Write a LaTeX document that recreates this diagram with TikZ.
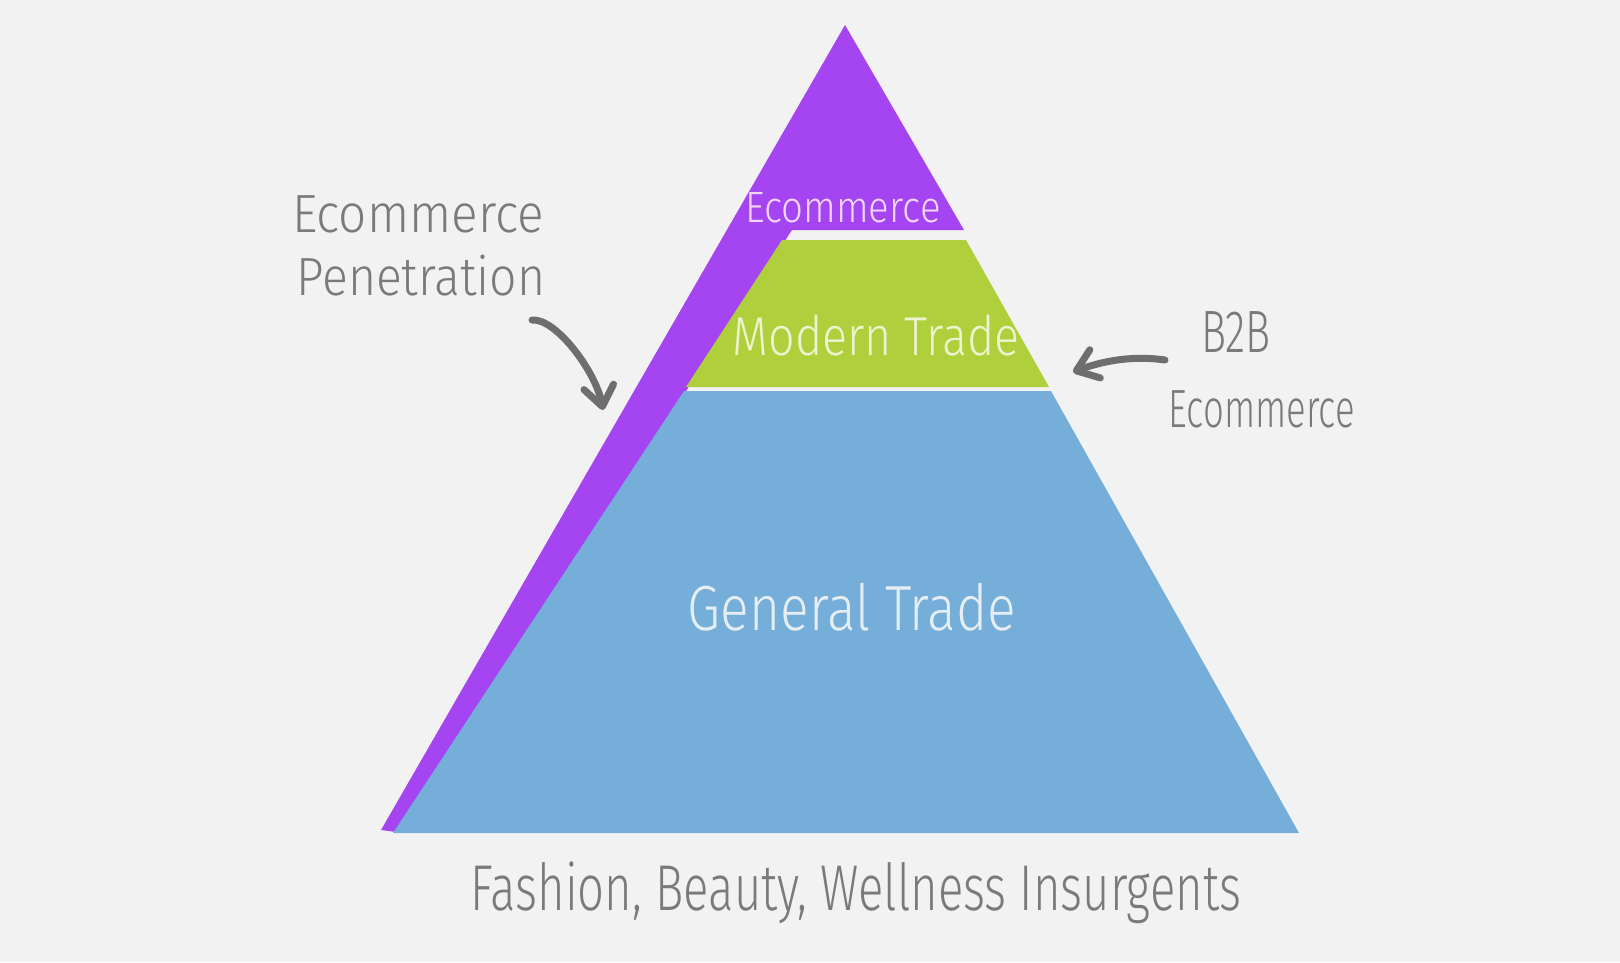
\documentclass[tikz,border=0pt]{standalone}
\usepackage{fontspec}
\newfontfamily\handfont{Fira Sans Light}
\usetikzlibrary{arrows.meta}
\definecolor{paper}{HTML}{F2F2F2}
\definecolor{ecompurple}{HTML}{A545F2}
\definecolor{moderngreen}{HTML}{AFCF3C}
\definecolor{generalblue}{HTML}{74AED9}
\definecolor{ecomtext}{HTML}{F3D6F7}
\definecolor{moderntext}{HTML}{EEF3CF}
\definecolor{generaltext}{HTML}{E6EEF4}
\definecolor{pencil}{HTML}{7A7A7A}
\newcommand{\handsize}[1]{\handfont\fontsize{#1}{#1}\selectfont}
\tikzset{
	hand/.style = {inner sep = 0pt, anchor = base},
	note/.style = {hand, text = pencil},
	pointer/.style = {draw = pencil!90!black, line width = 7bp, line cap = round,
		-{Straight Barb[length = 20bp, width = 30bp, round]}},
}

\begin{document}
\begin{tikzpicture}[x = 1bp, y = -1bp]
		\useasboundingbox (0, 0) rectangle (1620, 962) ;
		\fill [paper] (0, 0) rectangle (1620, 962) ;
		\begin{scope}[line join = round] % Pyramid
			\fill [ecompurple] (845, 25) -- (964, 230) -- (792, 230) -- (396, 832) -- (381, 830) -- cycle ;
			\fill [moderngreen] (782, 240) -- (966, 240) -- (1049, 387) -- (686, 387) -- cycle ;
			\fill [generalblue] (684, 391) -- (1051, 391) -- (1299, 833) -- (393, 833) -- cycle ;
		\end{scope}
		% Tiers
		\node [hand, text = ecomtext, font = \handsize{44}] (ecomtier) at (843, 222) {\scalebox{0.875}[1]{Ecommerce}} ;
		\node [hand, text = moderntext, font = \handsize{55}] (moderntier) at (876, 355) {\scalebox{0.85}[1]{Modern Trade}} ;
		\node [hand, text = generaltext, font = \handsize{64}] (generaltier) at (852, 630) {\scalebox{0.835}[1]{General Trade}} ;
		% Notes
		\node [note, anchor = base west, font = \handsize{54}] (penfirst) at (292, 232) {\scalebox{0.92}[1]{Ecommerce}} ;
		\node [note, anchor = base west, font = \handsize{54}] (pensecond) at (296, 295) {\scalebox{0.895}[1]{Penetration}} ;
		\node [note, font = \handsize{60}] (btobfirst) at (1236, 352) {\scalebox{0.70}[1]{B2B}} ;
		\node [note, font = \handsize{54}] (btobsecond) at (1262, 427) {\scalebox{0.68}[1]{Ecommerce}} ;
		\node [note, font = \handsize{65}] (segments) at (856, 910) {\scalebox{0.73}[1]{Fashion, Beauty, Wellness Insurgents}} ;
		% Arrows
		\coordinate (pentail) at (532, 320) ;
		\coordinate (pentip) at (603, 410) ;
		\draw [pointer] (pentail) .. controls (556, 318) and (596, 372) .. (pentip) ;
		\coordinate (btobtail) at (1165, 360) ;
		\coordinate (btobtip) at (1073, 372) ;
		\draw [pointer] (btobtail) .. controls (1130, 355) and (1100, 362) .. (btobtip) ;
	\end{tikzpicture}
\end{document}
